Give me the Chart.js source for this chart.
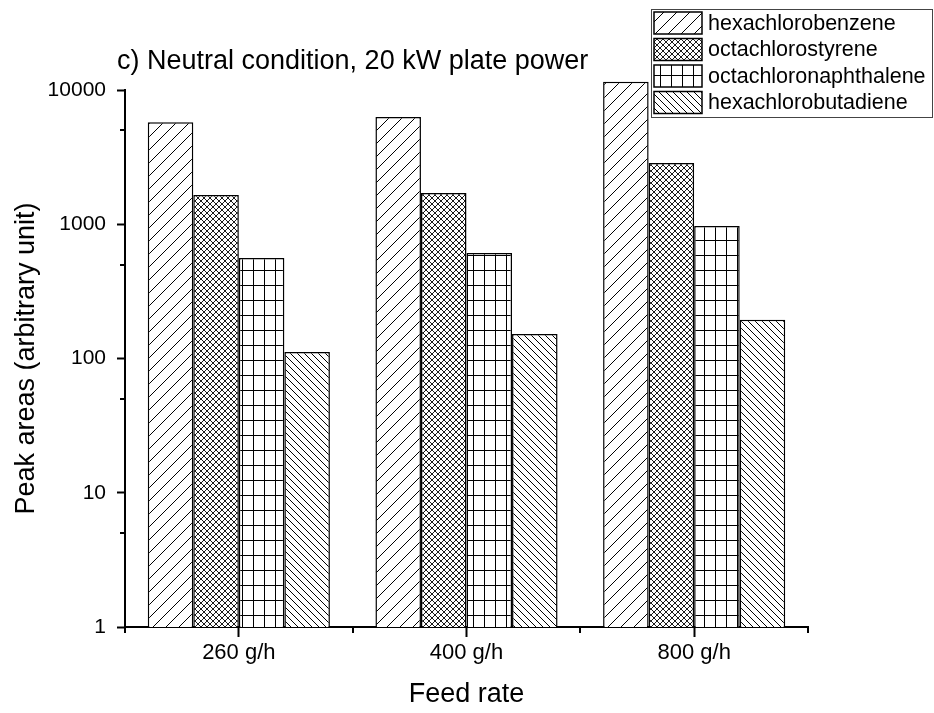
<!DOCTYPE html>
<html>
<head>
<meta charset="utf-8">
<script src="https://cdn.jsdelivr.net/npm/chart.js@4"></script>
<style>
  html, body { margin: 0; padding: 0; background: #fff; }
  #chart { display: block; }
</style>
</head>
<body>
<canvas id="chart" width="934" height="713"></canvas>
<script>
// data
const categories = ['260 g/h', '400 g/h', '800 g/h'];
const seriesNames = ['hexachlorobenzene', 'octachlorostyrene', 'octachloronaphthalene', 'hexachlorobutadiene'];
const hexachlorobenzene = [5760, 6300, 11500];
const octachlorostyrene = [1650, 1710, 2860];
const octachloronaphthalene = [560, 611, 970];
const hexachlorobutadiene = [112, 152, 194];
const yTicks = [1, 10, 100, 1000, 10000];
const yMinorTicks = [5, 50, 500, 5000];

const FONT = '"Liberation Sans", Arial, sans-serif';

// hatch patterns like the Origin fills
function makePattern(w, h, draw) {
    const c = document.createElement('canvas');
    c.width = w;
    c.height = h;
    const ctx = c.getContext('2d');
    ctx.fillStyle = '#fff';
    ctx.fillRect(0, 0, w, h);
    ctx.strokeStyle = '#000';
    ctx.lineWidth = 1;
    draw(ctx, w, h);
    return ctx.createPattern(c, 'repeat');
}

function slash(ctx, s) {
    ctx.beginPath();
    ctx.moveTo(-1, s + 1); ctx.lineTo(s + 1, -1);
    ctx.moveTo(-1, 1); ctx.lineTo(1, -1);
    ctx.moveTo(s - 1, s + 1); ctx.lineTo(s + 1, s - 1);
    ctx.stroke();
}
function backslash(ctx, s) {
    ctx.beginPath();
    ctx.moveTo(-1, -1); ctx.lineTo(s + 1, s + 1);
    ctx.moveTo(s - 1, -1); ctx.lineTo(s + 1, 1);
    ctx.moveTo(-1, s - 1); ctx.lineTo(1, s + 1);
    ctx.stroke();
}

const patterns = [
    makePattern(13, 13, (ctx, w) => slash(ctx, w)),
    makePattern(6, 6, (ctx, w) => { ctx.lineWidth = 0.9; slash(ctx, w); backslash(ctx, w); }),
    makePattern(11, 15, (ctx, w, h) => {
        ctx.beginPath();
        ctx.moveTo(0.5, 0); ctx.lineTo(0.5, h);
        ctx.moveTo(0, 0.5); ctx.lineTo(w, 0.5);
        ctx.stroke();
    }),
    makePattern(7, 7, (ctx, w) => backslash(ctx, w))
];

const seriesValues = [hexachlorobenzene, octachlorostyrene, octachloronaphthalene, hexachlorobutadiene];

const datasets = seriesNames.map((name, i) => ({
    label: name,
    data: seriesValues[i],
    backgroundColor: patterns[i],
    borderColor: '#000',
    borderWidth: 1.5,
    borderSkipped: 'bottom',
    categoryPercentage: 0.8,
    barPercentage: 1.0,
    clip: false   // the 800 g/h bar goes past 10000
}));

// title, legend box, minor ticks
const decorPlugin = {
    id: 'decor',
    beforeDraw(chart) {
        const ctx = chart.ctx;
        ctx.save();
        ctx.fillStyle = '#fff';
        ctx.fillRect(0, 0, chart.width, chart.height);
        ctx.restore();
    },
    afterDraw(chart) {
        const ctx = chart.ctx;
        const area = chart.chartArea;
        const ys = chart.scales.y;
        const xs = chart.scales.x;
        ctx.save();
        ctx.strokeStyle = '#000';
        ctx.lineWidth = 2;

        // minor ticks on y
        ctx.beginPath();
        yMinorTicks.forEach(v => {
            const py = Math.round(ys.getPixelForValue(v));
            ctx.moveTo(area.left, py);
            ctx.lineTo(area.left - 5, py);
        });
        // minor ticks on x at group boundaries
        const bounds = [area.left];
        for (let i = 0; i < categories.length - 1; i++) {
            bounds.push((xs.getPixelForValue(i) + xs.getPixelForValue(i + 1)) / 2);
        }
        bounds.push(area.right);
        bounds.forEach(px => {
            ctx.moveTo(Math.round(px), area.bottom);
            ctx.lineTo(Math.round(px), area.bottom + 6);
        });
        ctx.stroke();

        // title
        ctx.fillStyle = '#000';
        ctx.font = '27px ' + FONT;
        ctx.textAlign = 'left';
        ctx.textBaseline = 'alphabetic';
        ctx.fillText('c) Neutral condition, 20 kW plate power', 117, 69);

        // legend
        const lx = 651, ly = 9, lw = 281, lh = 108;
        ctx.lineWidth = 1;
        ctx.strokeStyle = '#444';
        ctx.strokeRect(lx + 0.5, ly + 0.5, lw, lh);
        ctx.font = '21.5px ' + FONT;
        ctx.textBaseline = 'middle';
        chart.data.datasets.forEach((ds, i) => {
            const sy = ly + 3 + i * 26.5;
            ctx.fillStyle = ds.backgroundColor;
            ctx.fillRect(lx + 3, sy, 48, 22);
            ctx.strokeStyle = '#000';
            ctx.lineWidth = 1.5;
            ctx.strokeRect(lx + 3, sy, 48, 22);
            ctx.fillStyle = '#000';
            ctx.fillText(ds.label, lx + 57, sy + 12);
        });
        ctx.restore();
    }
};

new Chart(document.getElementById('chart'), {
    type: 'bar',
    data: {
        labels: categories,
        datasets: datasets
    },
    options: {
        responsive: false,
        animation: false,
        devicePixelRatio: 1,
        layout: {
            padding: { top: 90, right: 126, left: 0, bottom: 0 }
        },
        plugins: {
            legend: { display: false },
            tooltip: { enabled: false },
            title: { display: false }
        },
        scales: {
            x: {
                type: 'category',
                grid: {
                    offset: false,
                    drawOnChartArea: false,
                    drawTicks: true,
                    tickLength: 10,
                    tickWidth: 2,
                    tickColor: '#000'
                },
                border: { display: true, color: '#000', width: 2 },
                ticks: {
                    color: '#000',
                    font: { family: FONT, size: 22 },
                    padding: 3,
                    maxRotation: 0
                },
                title: {
                    display: true,
                    text: 'Feed rate',
                    color: '#000',
                    font: { family: FONT, size: 27 },
                    padding: { top: 2, bottom: 2 }
                },
                afterFit(scale) { scale.height = 86; }
            },
            y: {
                type: 'logarithmic',
                min: 1,
                max: 10000,
                afterBuildTicks(scale) {
                    scale.ticks = yTicks.map(v => ({ value: v }));
                },
                grid: {
                    drawOnChartArea: false,
                    drawTicks: true,
                    tickLength: 8,
                    tickWidth: 2,
                    tickColor: '#000'
                },
                border: { display: true, color: '#000', width: 2 },
                ticks: {
                    color: '#000',
                    font: { family: FONT, size: 21 },
                    padding: 11,
                    callback: v => String(v)
                },
                title: {
                    display: true,
                    text: 'Peak areas (arbitrary unit)',
                    color: '#000',
                    font: { family: FONT, size: 27 },
                    padding: { top: 10, bottom: 0 }
                },
                afterFit(scale) { scale.width = 125; }
            }
        }
    },
    plugins: [decorPlugin]
});
</script>
</body>
</html>
